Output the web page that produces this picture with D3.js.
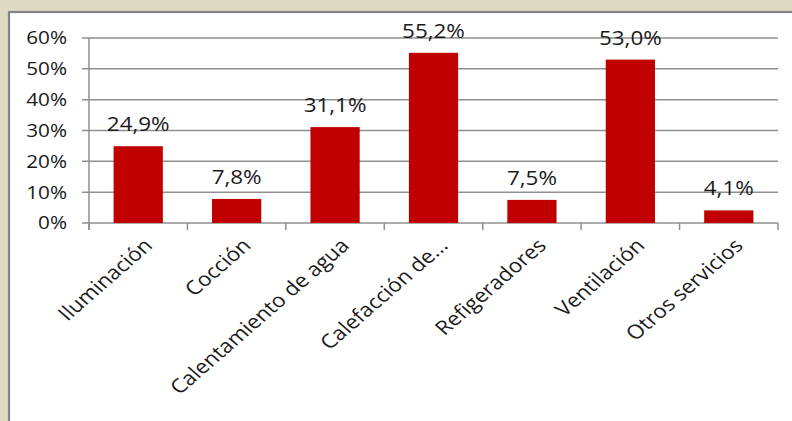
<!DOCTYPE html>
<html><head><meta charset="utf-8">
<script src="https://cdn.jsdelivr.net/npm/d3@7"></script>
<style>
  body { margin: 0; background: #ddd9c3; }
  svg { display: block; }
  text { font-family: "Open Sans", "Noto Sans", sans-serif; fill: #1a1a1a; }
</style>
</head><body>
<svg id="chart" width="792" height="421"></svg>
<script>
// Share of households using electricity for each end use
const categories = ["Iluminación", "Cocción", "Calentamiento de agua", "Calefacción de...", "Refigeradores", "Ventilación", "Otros servicios"];
const values = [24.9, 7.8, 31.1, 55.2, 7.5, 53.0, 4.1];
const yTicks = [0, 10, 20, 30, 40, 50, 60];

const svg = d3.select("#chart");
const stretch = 1.15; // text is set slightly wide

// white panel with a grey frame
svg.append("rect")
  .attr("x", 9).attr("y", 12)
  .attr("width", 820).attr("height", 440)
  .attr("fill", "#fff")
  .attr("stroke", "#858585").attr("stroke-width", 2.2);

const y = d3.scaleLinear().domain([0, 60]).range([223, 38]);
const x = d3.scaleBand().domain(categories).range([89, 778])
  .paddingInner(0.5).paddingOuter(0.25);
const step = x.step();
const left = 89, right = 778, tickLen = 7;

// horizontal gridlines (with the y tick stubs)
svg.append("g").selectAll("line").data(yTicks).join("line")
  .attr("x1", left - tickLen).attr("x2", right)
  .attr("y1", d => y(d)).attr("y2", d => y(d))
  .attr("stroke", "#8f8f8f").attr("stroke-width", 1.5);

// y axis line
svg.append("line")
  .attr("x1", left).attr("x2", left)
  .attr("y1", y(60)).attr("y2", y(0) + tickLen)
  .attr("stroke", "#8f8f8f").attr("stroke-width", 1.5);

// x axis category boundary ticks
svg.append("g").selectAll("line").data(d3.range(categories.length + 1)).join("line")
  .attr("x1", i => left + i * step).attr("x2", i => left + i * step)
  .attr("y1", y(0)).attr("y2", y(0) + tickLen)
  .attr("stroke", "#8f8f8f").attr("stroke-width", 1.5);

// y tick labels
svg.append("g").selectAll("text").data(yTicks).join("text")
  .attr("transform", d => `translate(67,${y(d)}) scale(${stretch},1)`)
  .attr("dy", "0.36em")
  .attr("text-anchor", "end")
  .style("font-size", "18px")
  .text(d => d + "%");

// bars
svg.append("g").selectAll("rect").data(values).join("rect")
  .attr("x", (d, i) => x(categories[i]))
  .attr("width", x.bandwidth())
  .attr("y", d => y(d))
  .attr("height", d => y(0) - y(d))
  .attr("fill", "#c00000");

// value labels
const fmt = v => v.toFixed(1).replace(".", ",") + "%";
svg.append("g").selectAll("text").data(values).join("text")
  .attr("transform", (d, i) => `translate(${x(categories[i]) + x.bandwidth() / 2},${y(d) - 15}) scale(${stretch},1)`)
  .attr("text-anchor", "middle")
  .style("font-size", "19.5px")
  .text(fmt);

// rotated category labels
svg.append("g").selectAll("text").data(categories).join("text")
  .attr("transform", d => `translate(${x(d) + x.bandwidth() / 2 + 10},242) scale(${stretch},1) rotate(-45)`)
  .attr("text-anchor", "end")
  .attr("dy", "0.35em")
  .style("font-size", "19.5px")
  .text(d => d);
</script>
</body></html>
